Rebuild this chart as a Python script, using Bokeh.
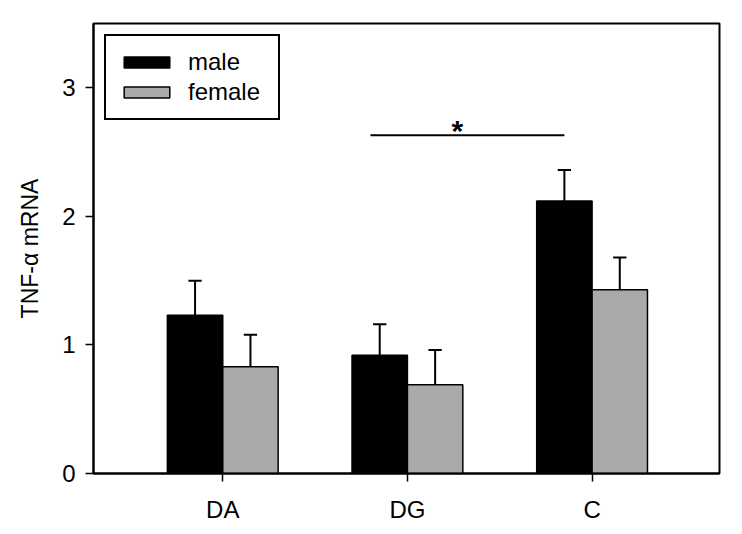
from bokeh.plotting import figure
from bokeh.models import ColumnDataSource, FixedTicker, Range1d, Legend, LegendItem, Label
from bokeh.embed import file_html
from bokeh.resources import INLINE

categories = ["DA", "DG", "C"]
male = [1.23, 0.92, 2.12]
female = [0.83, 0.69, 1.43]
male_err = [0.27, 0.24, 0.24]
female_err = [0.25, 0.27, 0.25]
sig_from = 1.8
sig_to = 2.85
sig_y = 2.63

FONT = "Liberation Sans"
xpos = [i + 1 for i in range(len(categories))]
bw = 0.3
off = 0.15

p = figure(width=734, height=526, output_backend="svg", toolbar_location=None,
           x_range=Range1d(0.3, 3.69), y_range=Range1d(0, 3.5),
           min_border_left=93, min_border_right=15, min_border_top=23, min_border_bottom=53)
p.grid.visible = False
p.outline_line_color = "black"
p.outline_line_width = 2
p.outline_line_alpha = 1
p.background_fill_color = "white"
p.border_fill_color = "white"

xm = [x - off for x in xpos]
xf = [x + off for x in xpos]
src_m = ColumnDataSource(dict(x=xm, top=male, err=[v + e for v, e in zip(male, male_err)]))
src_f = ColumnDataSource(dict(x=xf, top=female, err=[v + e for v, e in zip(female, female_err)]))

# error bars (upper only)
cap = 0.036
for src in (src_m, src_f):
    p.segment(x0="x", y0="top", x1="x", y1="err", source=src, line_color="black", line_width=2)
    d = src.data
    p.segment(x0=[x - cap for x in d["x"]], y0=d["err"], x1=[x + cap for x in d["x"]], y1=d["err"],
              line_color="black", line_width=2)

rm = p.vbar(x="x", top="top", width=bw, source=src_m, fill_color="black", line_color="black", line_width=1.5)
rf = p.vbar(x="x", top="top", width=bw, source=src_f, fill_color="#aaaaaa", line_color="black", line_width=1.5)

# significance line
p.segment(x0=[sig_from], y0=[sig_y], x1=[sig_to], y1=[sig_y], line_color="black", line_width=2)
p.add_layout(Label(x=(sig_from + sig_to) / 2 - 0.055, y=sig_y, text="*", text_align="center",
                   text_baseline="bottom", text_font=FONT, text_font_size="30px",
                   text_color="black", text_font_style="bold", y_offset=-12))

# axes
p.xaxis.ticker = FixedTicker(ticks=xpos)
p.xaxis.major_label_overrides = {x: c for x, c in zip(xpos, categories)}
p.yaxis.ticker = FixedTicker(ticks=[0, 1, 2, 3])
for ax in (p.xaxis, p.yaxis):
    ax.axis_line_width = 2
    ax.axis_line_color = "black"
    ax.major_tick_line_width = 1.5
    ax.major_tick_line_color = "black"
    ax.major_tick_in = 0
    ax.major_tick_out = 8
    ax.minor_tick_line_color = None
    ax.major_label_text_font = FONT
    ax.major_label_text_font_size = "24px"
    ax.major_label_text_color = "black"
p.xaxis.major_label_standoff = 14
p.yaxis.major_label_standoff = 10
p.yaxis.axis_label = "TNF-α mRNA"
p.yaxis.axis_label_text_font = FONT
p.yaxis.axis_label_text_font_size = "23px"
p.yaxis.axis_label_text_font_style = "normal"
p.yaxis.axis_label_text_color = "black"
p.yaxis.axis_label_standoff = 16

legend = Legend(items=[LegendItem(label="male", renderers=[rm]),
                       LegendItem(label="female", renderers=[rf])],
                location="top_left")
legend.margin = 11
legend.padding = 12
legend.spacing = 2
legend.glyph_width = 57
legend.glyph_height = 14
legend.label_height = 28
legend.label_width = 78
legend.label_standoff = 13
legend.label_text_font = FONT
legend.label_text_font_size = "24px"
legend.label_text_color = "black"
legend.label_text_baseline = "middle"
legend.border_line_color = "black"
legend.border_line_alpha = 1
legend.border_line_width = 2
legend.background_fill_alpha = 1
p.add_layout(legend)

open("out.html", "w").write(file_html(p, INLINE))
